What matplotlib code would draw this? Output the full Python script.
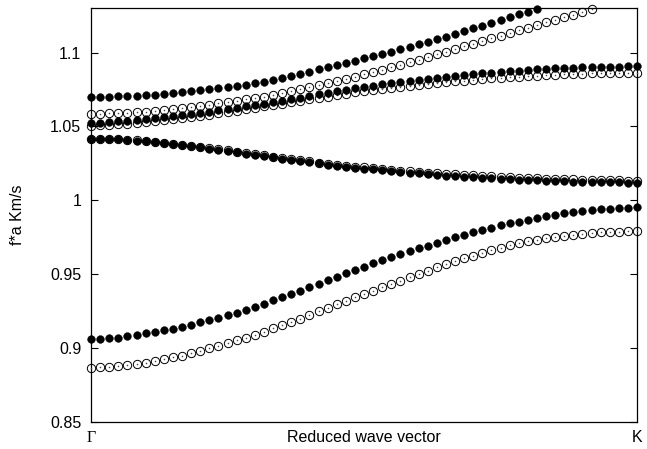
import matplotlib
matplotlib.use("Agg")
import matplotlib.pyplot as plt
import numpy as np

# --- data ---
n_k = 61  # k-points from Gamma to K

band_top_filled = [
    1.0700, 1.0701, 1.0702, 1.0704, 1.0706, 1.0709, 1.0712, 1.0716, 1.0721, 1.0727,
    1.0734, 1.0740, 1.0746, 1.0752, 1.0759, 1.0767, 1.0775, 1.0784, 1.0794, 1.0804,
    1.0815, 1.0828, 1.0842, 1.0856, 1.0871, 1.0886, 1.0901, 1.0916, 1.0931, 1.0946,
    1.0961, 1.0976, 1.0991, 1.1007, 1.1023, 1.1039, 1.1056, 1.1073, 1.1090, 1.1108,
    1.1126, 1.1145, 1.1164, 1.1183, 1.1202, 1.1221, 1.1240, 1.1259, 1.1278, 1.1296]

band_top_open = [
    1.0585, 1.0586, 1.0588, 1.0590, 1.0593, 1.0597, 1.0601, 1.0606, 1.0612, 1.0618,
    1.0625, 1.0632, 1.0640, 1.0648, 1.0656, 1.0665, 1.0674, 1.0683, 1.0693, 1.0702,
    1.0712, 1.0725, 1.0738, 1.0751, 1.0765, 1.0779, 1.0793, 1.0807, 1.0822, 1.0837,
    1.0852, 1.0867, 1.0883, 1.0900, 1.0917, 1.0935, 1.0953, 1.0971, 1.0989, 1.1006,
    1.1024, 1.1042, 1.1060, 1.1079, 1.1097, 1.1115, 1.1132, 1.1150, 1.1168, 1.1186,
    1.1204, 1.1222, 1.1240, 1.1258, 1.1276, 1.1294]

band_mid_filled = [
    1.0525, 1.0527, 1.0530, 1.0534, 1.0539, 1.0545, 1.0551, 1.0557, 1.0563, 1.0569,
    1.0575, 1.0583, 1.0591, 1.0600, 1.0609, 1.0618, 1.0627, 1.0636, 1.0646, 1.0655,
    1.0665, 1.0675, 1.0685, 1.0696, 1.0706, 1.0717, 1.0727, 1.0738, 1.0748, 1.0758,
    1.0767, 1.0776, 1.0785, 1.0793, 1.0801, 1.0808, 1.0815, 1.0822, 1.0828, 1.0834,
    1.0840, 1.0847, 1.0853, 1.0859, 1.0865, 1.0870, 1.0875, 1.0879, 1.0883, 1.0887,
    1.0890, 1.0893, 1.0896, 1.0899, 1.0901, 1.0903, 1.0904, 1.0905, 1.0906, 1.0907,
    1.0908]

band_mid_open = [
    1.0505, 1.0507, 1.0510, 1.0514, 1.0519, 1.0525, 1.0531, 1.0537, 1.0543, 1.0549,
    1.0555, 1.0563, 1.0571, 1.0580, 1.0589, 1.0598, 1.0607, 1.0617, 1.0626, 1.0636,
    1.0645, 1.0655, 1.0664, 1.0674, 1.0683, 1.0693, 1.0703, 1.0713, 1.0722, 1.0731,
    1.0739, 1.0747, 1.0755, 1.0762, 1.0769, 1.0776, 1.0783, 1.0789, 1.0795, 1.0801,
    1.0806, 1.0811, 1.0816, 1.0821, 1.0826, 1.0830, 1.0834, 1.0838, 1.0842, 1.0845,
    1.0848, 1.0851, 1.0853, 1.0856, 1.0858, 1.0860, 1.0861, 1.0862, 1.0863, 1.0864,
    1.0865]

band_dec_filled = [
    1.0418, 1.0417, 1.0415, 1.0413, 1.0409, 1.0405, 1.0400, 1.0394, 1.0388, 1.0382,
    1.0375, 1.0367, 1.0359, 1.0351, 1.0343, 1.0335, 1.0326, 1.0317, 1.0308, 1.0300,
    1.0292, 1.0283, 1.0275, 1.0266, 1.0258, 1.0250, 1.0242, 1.0235, 1.0228, 1.0221,
    1.0215, 1.0209, 1.0203, 1.0197, 1.0192, 1.0187, 1.0182, 1.0177, 1.0173, 1.0168,
    1.0164, 1.0160, 1.0156, 1.0153, 1.0149, 1.0146, 1.0143, 1.0140, 1.0138, 1.0135,
    1.0133, 1.0131, 1.0129, 1.0127, 1.0126, 1.0124, 1.0123, 1.0122, 1.0121, 1.0120,
    1.0120]

band_dec_open = [
    1.0418, 1.0417, 1.0415, 1.0413, 1.0410, 1.0406, 1.0401, 1.0396, 1.0390, 1.0384,
    1.0377, 1.0370, 1.0362, 1.0354, 1.0346, 1.0338, 1.0330, 1.0321, 1.0312, 1.0304,
    1.0296, 1.0288, 1.0280, 1.0272, 1.0264, 1.0256, 1.0249, 1.0242, 1.0235, 1.0229,
    1.0223, 1.0217, 1.0212, 1.0206, 1.0201, 1.0197, 1.0192, 1.0188, 1.0184, 1.0180,
    1.0176, 1.0172, 1.0169, 1.0166, 1.0163, 1.0160, 1.0157, 1.0154, 1.0152, 1.0150,
    1.0148, 1.0146, 1.0144, 1.0142, 1.0140, 1.0139, 1.0137, 1.0136, 1.0135, 1.0134,
    1.0133]

band_low_filled = [
    0.9062, 0.9063, 0.9066, 0.9071, 0.9079, 0.9090, 0.9099, 0.9109, 0.9120, 0.9132,
    0.9145, 0.9159, 0.9174, 0.9189, 0.9205, 0.9223, 0.9241, 0.9260, 0.9280, 0.9301,
    0.9323, 0.9345, 0.9367, 0.9390, 0.9413, 0.9436, 0.9459, 0.9482, 0.9506, 0.9530,
    0.9552, 0.9573, 0.9594, 0.9615, 0.9635, 0.9655, 0.9675, 0.9694, 0.9713, 0.9732,
    0.9750, 0.9767, 0.9784, 0.9800, 0.9815, 0.9830, 0.9844, 0.9857, 0.9870, 0.9882,
    0.9893, 0.9903, 0.9912, 0.9920, 0.9927, 0.9933, 0.9939, 0.9944, 0.9948, 0.9951,
    0.9953]

band_low_open = [
    0.8868, 0.8869, 0.8872, 0.8877, 0.8884, 0.8892, 0.8901, 0.8912, 0.8924, 0.8937,
    0.8950, 0.8965, 0.8981, 0.8998, 0.9015, 0.9033, 0.9052, 0.9071, 0.9090, 0.9111,
    0.9133, 0.9155, 0.9177, 0.9200, 0.9224, 0.9248, 0.9272, 0.9296, 0.9320, 0.9345,
    0.9367, 0.9389, 0.9411, 0.9433, 0.9455, 0.9479, 0.9502, 0.9525, 0.9547, 0.9568,
    0.9588, 0.9607, 0.9626, 0.9644, 0.9662, 0.9680, 0.9696, 0.9710, 0.9723, 0.9735,
    0.9745, 0.9754, 0.9762, 0.9769, 0.9775, 0.9780, 0.9784, 0.9787, 0.9789, 0.9791,
    0.9792]

filled_bands = [band_top_filled, band_mid_filled, band_dec_filled, band_low_filled]
open_bands = [band_top_open, band_mid_open, band_dec_open, band_low_open]

y_ticks = [0.85, 0.9, 0.95, 1.0, 1.05, 1.1]
y_tick_labels = ["0.85", "0.9", "0.95", "1", "1.05", "1.1"]
x_tick_labels = ["\u0393", "K"]
y_label = "f*a Km/s"
x_label = "Reduced wave vector"

FS = 11.5

# --- figure ---
W, H = 647, 449
fig = plt.figure(figsize=(W / 100, H / 100), dpi=100)
ax = fig.add_axes([91 / W, (H - 422) / H, (637 - 91) / W, (422 - 8.3) / H])

kx = np.linspace(0.0, 1.0, n_k)

for band in open_bands:
    xs = kx[:len(band)]
    ax.plot(xs, band, linestyle="none", marker="o", markersize=6.0,
            markerfacecolor="none", markeredgecolor="black",
            markeredgewidth=0.7, clip_on=False, zorder=3)
    ax.plot(xs, band, linestyle="none", marker="o", markersize=1.1,
            markerfacecolor="#444444", markeredgewidth=0, clip_on=False, zorder=3)

for band in filled_bands:
    xs = kx[:len(band)]
    ax.plot(xs, band, linestyle="none", marker="o", markersize=5.6,
            markerfacecolor="black", markeredgecolor="black",
            markeredgewidth=0.3, clip_on=False, zorder=4)

ax.set_xlim(0, 1)
ax.set_ylim(0.85, 1.13)

ax.set_yticks(y_ticks)
ax.set_yticklabels(y_tick_labels, fontfamily="Liberation Sans", fontsize=FS)
ax.tick_params(axis="y", direction="in", length=5, width=0.8, right=True,
               pad=7, colors="black")
ax.yaxis.set_tick_params(which="both", labelright=False)

ax.set_xticks([0, 1])
ax.set_xticklabels(x_tick_labels, fontsize=FS)
ax.get_xticklabels()[0].set_fontfamily("Liberation Serif")
ax.get_xticklabels()[1].set_fontfamily("Liberation Sans")
ax.tick_params(axis="x", direction="in", length=0, pad=5.5)

ax.set_xlabel(x_label, fontfamily="Liberation Sans", fontsize=FS)
ax.xaxis.set_label_coords(0.5, -0.019)
ax.set_ylabel(y_label, fontfamily="Liberation Sans", fontsize=FS)
ax.yaxis.set_label_coords(-0.12, 0.5)

for s in ax.spines.values():
    s.set_linewidth(0.9)
    s.set_color("black")

fig.savefig("out.png", dpi=100)
